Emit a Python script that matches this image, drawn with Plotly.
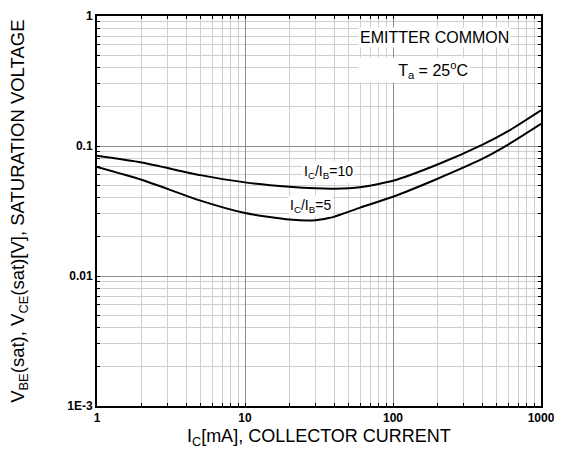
import plotly.graph_objects as go
import numpy as np

# Data
ic = [1, 2, 5, 10, 20, 30, 40, 60, 100, 200, 400, 600, 1000]
v_ratio10 = [0.084, 0.0746, 0.0597, 0.0525, 0.0486, 0.0473, 0.047, 0.0482, 0.054, 0.072, 0.102, 0.130, 0.188]
v_ratio5 = [0.069, 0.055, 0.038, 0.0305, 0.0272, 0.0269, 0.0286, 0.0336, 0.0407, 0.056, 0.0795, 0.1025, 0.148]

x_ticks = [1, 10, 100, 1000]
x_ticktext = ["1", "10", "100", "1000"]
y_ticks = [0.001, 0.01, 0.1, 1]
y_ticktext = ["1E-3", "0.01", "0.1", "1"]

xminor = [m * 10 ** d for d in range(0, 3) for m in range(2, 10)]
yminor = [m * 10.0 ** d for d in range(-3, 0) for m in range(2, 10)]

FONT = "Liberation Sans, Arial, sans-serif"

fig = go.Figure()
fig.add_trace(go.Scatter(x=ic, y=v_ratio10, mode="lines", line=dict(color="black", width=2, shape="spline", smoothing=0.6), showlegend=False))
fig.add_trace(go.Scatter(x=ic, y=v_ratio5, mode="lines", line=dict(color="black", width=2, shape="spline", smoothing=0.6), showlegend=False))

axis_common = dict(
    type="log", showline=True, linecolor="black", linewidth=2, mirror="ticks",
    ticks="inside", ticklen=3, tickcolor="black", automargin=False,
    showgrid=True, gridcolor="#8c8c8c", gridwidth=1, zeroline=False,
    tickfont=dict(family=FONT, size=12, color="black", weight="bold"),
)
fig.update_xaxes(**axis_common, range=[0, 3], tickvals=x_ticks, ticktext=x_ticktext,
                 minor=dict(tickvals=xminor, showgrid=True, gridcolor="#cfcfcf", gridwidth=1, ticks="inside", ticklen=3, tickcolor="black"))
fig.update_yaxes(**axis_common, range=[-3, 0], tickvals=y_ticks, ticktext=y_ticktext,
                 minor=dict(tickvals=yminor, showgrid=True, gridcolor="#cfcfcf", gridwidth=1, ticks="inside", ticklen=3, tickcolor="black"))

fig.add_annotation(x=np.log10(36.5), y=np.log10(0.063), text="I<sub>C</sub>/I<sub>B</sub>=10", showarrow=False,
                   bgcolor="white", font=dict(family=FONT, size=14, color="black"))
fig.add_annotation(x=np.log10(27.6), y=np.log10(0.0343), text="I<sub>C</sub>/I<sub>B</sub>=5", showarrow=False,
                   bgcolor="white", font=dict(family=FONT, size=14, color="black"))
fig.add_annotation(x=np.log10(190), y=-0.169, text="EMITTER COMMON", showarrow=False, bgcolor="white",
                   font=dict(family=FONT, size=16, color="black"))
fig.add_annotation(x=2.139, y=-0.418, text="T<sub>a</sub> = 25<sup>o</sup>C", showarrow=False, bgcolor="white",
                   width=108, align="right",
                   font=dict(family=FONT, size=16, color="black"))

fig.add_annotation(xref="paper", yref="paper", x=0.5, y=-0.08, yanchor="middle", xanchor="center",
                   text="I<sub>C</sub>[mA], COLLECTOR CURRENT", showarrow=False,
                   font=dict(family=FONT, size=18, color="black"))
fig.add_annotation(xref="paper", yref="paper", x=-0.176, y=0.5, xanchor="center", yanchor="middle", textangle=-90,
                   text="V<sub>BE</sub>(sat), V<sub>CE</sub>(sat)[V], SATURATION VOLTAGE", showarrow=False,
                   font=dict(family=FONT, size=18.5, color="black"))

# The page body adds an 8px offset; size the figure so the plot lands where the reference has it
fig.update_layout(
    width=554, height=443, autosize=False,
    margin=dict(l=89, r=21, t=8, b=45),
    paper_bgcolor="white", plot_bgcolor="white",
)
fig.write_html("out.html")
